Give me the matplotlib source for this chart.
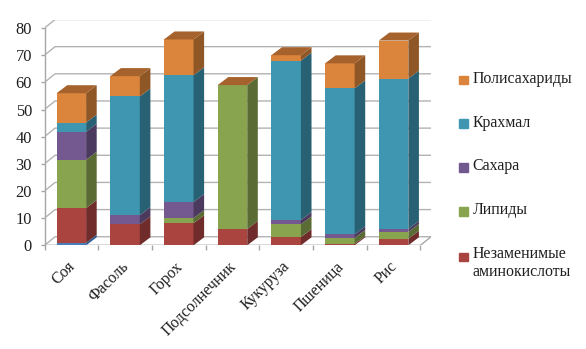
import numpy as np
import matplotlib
matplotlib.use("Agg")
import matplotlib.pyplot as plt
from matplotlib.patches import Rectangle
from matplotlib.legend_handler import HandlerPatch
from matplotlib.transforms import ScaledTranslation

plt.rcParams['font.family'] = ['Liberation Serif', 'DejaVu Serif']

categories = ['Соя', 'Фасоль', 'Горох', 'Подсолнечник', 'Кукуруза', 'Пшеница', 'Рис']
other = [0.9, 0, 0, 0, 0, 0, 0]
amino = [12.8, 7.7, 8.1, 6.0, 3.0, 0.5, 2.4]
lipids = [17.8, 0, 1.9, 53.0, 4.7, 2.2, 2.5]
sugars = [10.3, 3.4, 5.9, 0, 1.6, 1.3, 1.1]
starch = [3.4, 43.7, 46.7, 0, 58.7, 53.8, 55.4]
polysacch = [10.8, 7.5, 13.2, 0, 2.0, 9.2, 14.0]
y_ticks = [0, 10, 20, 30, 40, 50, 60, 70, 80]

series = [other, amino, lipids, sugars, starch, polysacch]
front_colors = ['#4a7ebb', '#a9443f', '#88a44e', '#73598f', '#3f96b0', '#db843c']
side_colors = ['#2c5c94', '#6f2c2a', '#5a6c33', '#4b3a5e', '#286173', '#8f5626']
top_color = '#a6622c'
legend_labels = ['Незаменимые\nаминокислоты', 'Липиды', 'Сахара', 'Крахмал', 'Полисахариды']
grid_color = '#b3b3b3'
axis_color = '#a6a6a6'
text_color = '#1f1f1f'

W, H = 586, 349
fig = plt.figure(figsize=(W / 100, H / 100), dpi=100, facecolor='white')
L, R, B, T = 44.5, 431.0, 245.3, 19.5
ax = fig.add_axes([L / W, 1 - B / H, (R - L) / W, (B - T) / H])

wall_dx, wall_dy = 0.197, 3.15
bar_dx, bar_dy = 0.197, 2.95
bar_w = 0.55
x0, x1 = -0.5, 6.5
ax.set_xlim(x0, x1 + wall_dx)
ax.set_ylim(0, 80 + wall_dy)

# wall and floor
for v in y_ticks:
    ax.plot([x0, x0 + wall_dx, x1 + wall_dx], [v, v + wall_dy, v + wall_dy],
            color=grid_color, lw=1.0, zorder=1, solid_joinstyle='miter')
ax.plot([x0, x1, x1 + wall_dx], [0, 0, wall_dy], color=axis_color, lw=1.0, zorder=1)

# bars
xs = np.arange(len(categories))
bottom = np.zeros(len(categories))
handles = []
for i, vals in enumerate(series):
    vals = np.array(vals, dtype=float)
    bars = ax.bar(xs, vals, bar_w, bottom=bottom, color=front_colors[i], linewidth=0, zorder=3)
    if i > 0:
        handles.append(Rectangle((0, 0), 1, 1, color=front_colors[i]))
    for x, b, v in zip(xs, bottom, vals):
        if v > 0:
            xr = x + bar_w / 2
            ax.fill([xr, xr + bar_dx, xr + bar_dx, xr],
                    [b, b + bar_dy, b + v + bar_dy, b + v],
                    color=side_colors[i], linewidth=0, zorder=3)
    bottom = bottom + vals
for x, top in zip(xs, bottom):
    xl, xr = x - bar_w / 2, x + bar_w / 2
    ax.fill([xl, xr, xr + bar_dx, xl + bar_dx], [top, top, top + bar_dy, top + bar_dy],
            color=top_color, linewidth=0, zorder=3)

# axes
for s in ['top', 'right', 'bottom']:
    ax.spines[s].set_visible(False)
ax.spines['left'].set_bounds(0, 80)
ax.spines['left'].set_color(axis_color)
ax.spines['left'].set_linewidth(1.0)
ax.set_yticks(y_ticks)
ax.tick_params(axis='y', length=3.0, width=1.0, color=axis_color, labelsize=11.8,
               labelcolor=text_color, pad=6.0)
ax.set_xticks(xs)
ax.set_xticklabels(categories, rotation=45, ha='right', va='top', rotation_mode='anchor',
                   fontsize=11.4, color=text_color)
ax.tick_params(axis='x', which='major', length=0, pad=9.5)
shift = ScaledTranslation(-4 / 100, 0, fig.dpi_scale_trans)
for lab in ax.get_xticklabels():
    lab.set_transform(lab.get_transform() + shift)
ax.set_xticks(np.arange(x0, x1 + 1), minor=True)
ax.tick_params(axis='x', which='minor', length=3.5, width=1.0, color=axis_color)
ax.patch.set_visible(False)


def square(legend, orig_handle, xdescent, ydescent, width, height, fontsize):
    lift = orig_handle.get_gid()
    return Rectangle((0, -1.0 + (float(lift) if lift else 0)), 6.2, 6.2)


handles[0].set_gid('6.7')
leg = ax.legend(handles[::-1], legend_labels[::-1], loc='upper left',
                bbox_to_anchor=(459 / W, 1 - 71 / H), bbox_transform=fig.transFigure,
                frameon=False, fontsize=11.4, handlelength=0.55, handletextpad=0.3,
                labelspacing=1.75, borderaxespad=0, borderpad=0, labelcolor=text_color,
                handler_map={Rectangle: HandlerPatch(patch_func=square)})

fig.savefig('out.png', dpi=100, facecolor='white')
